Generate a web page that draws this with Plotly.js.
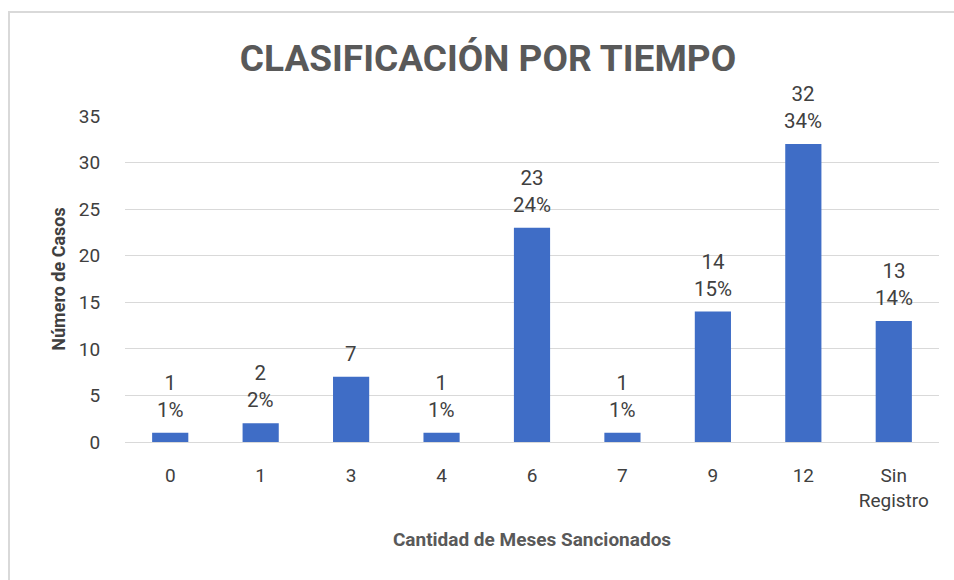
<!DOCTYPE html>
<html>
<head>
<meta charset="utf-8">
<script src="https://cdn.plot.ly/plotly-3.0.1.min.js"></script>
<style>
  html, body { margin: 0; padding: 0; background: #fff; }
  #frame { position: absolute; left: 8px; top: 11px; width: 960px; height: 580px; border-left: 2px solid #d9d9d9; border-top: 2px solid #d9d9d9; }
  #chart { position: absolute; left: 0; top: 0; width: 954px; height: 580px; }
</style>
</head>
<body>
<div id="frame"></div>
<div id="chart"></div>
<script>
const categories = ["0", "1", "3", "4", "6", "7", "9", "12", "Sin<br>Registro"];
const casos = [1, 2, 7, 1, 23, 1, 14, 32, 13];
const porcentajes = ["1%", "2%", "", "1%", "24%", "1%", "15%", "34%", "14%"];
const yTicks = [0, 5, 10, 15, 20, 25, 30, 35];

const FONT = "'Roboto', 'Open Sans', sans-serif";
const TXT = "#404040";

const annotations = categories.map((c, i) => ({
  x: i, y: casos[i], xref: 'x', yref: 'y',
  text: porcentajes[i] ? casos[i] + "<br>" + porcentajes[i] : String(casos[i]),
  showarrow: false, yanchor: 'bottom', yshift: 9,
  font: { family: FONT, size: 20.5, color: TXT }
}));

const trace = {
  type: 'bar',
  x: categories,
  y: casos,
  width: 0.4,
  marker: { color: '#3F6DC6', line: { width: 0 } },
  hoverinfo: 'x+y'
};

const layout = {
  width: 954, height: 580,
  margin: { l: 125, r: 15, t: 116, b: 138 },
  paper_bgcolor: 'rgba(0,0,0,0)',
  plot_bgcolor: 'rgba(0,0,0,0)',
  showlegend: false,
  title: {
    text: "<b>CLASIFICACIÓN POR TIEMPO</b>",
    font: { family: FONT, size: 37, color: '#595959' },
    xref: 'container', yref: 'container',
    x: 488 / 954, y: 1 - 58 / 580, xanchor: 'center', yanchor: 'middle'
  },
  xaxis: {
    type: 'category',
    range: [-0.5, categories.length - 0.5],
    tickfont: { family: FONT, size: 19, color: TXT },
    ticks: 'outside', ticklen: 16, tickcolor: 'rgba(0,0,0,0)',
    showline: false, showgrid: false,
    title: { text: "<b>Cantidad de Meses Sancionados</b>", font: { family: FONT, size: 19, color: '#595959' }, standoff: 22 },
    automargin: false
  },
  yaxis: {
    range: [0, 35],
    tickvals: yTicks,
    tickfont: { family: FONT, size: 19, color: TXT },
    ticks: 'outside', ticklen: 20, tickcolor: 'rgba(0,0,0,0)',
    showgrid: true, gridcolor: '#d9d9d9', gridwidth: 1,
    zeroline: true, zerolinecolor: '#d9d9d9', zerolinewidth: 1,
    title: { text: "<b>Número de Casos</b>", font: { family: FONT, size: 18, color: '#404040' }, standoff: 8 },
    automargin: false
  },
  annotations: annotations,
  bargap: 0.6
};

Plotly.newPlot('chart', [trace], layout, { displayModeBar: false, staticPlot: true });
</script>
</body>
</html>
